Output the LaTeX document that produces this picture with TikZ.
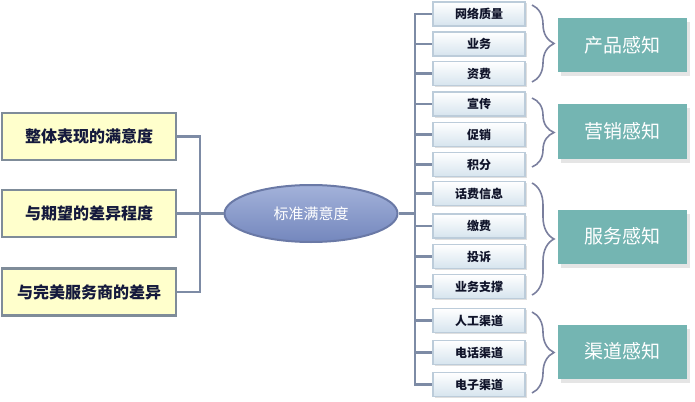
\documentclass[tikz,border=0pt]{standalone}
\usepackage{fontspec}
\setmainfont{Noto Sans CJK SC}
\usetikzlibrary{positioning,calc,shapes.geometric,decorations.pathreplacing,shadows}
\definecolor{LinkGrey}{HTML}{7D8BA5}
\definecolor{AspectFill}{HTML}{FFFFCC}
\definecolor{AspectLine}{HTML}{7F8C99}
\definecolor{AspectText}{HTML}{14193C}
\definecolor{CoreTop}{HTML}{A3B2DA}
\definecolor{CoreBottom}{HTML}{7487BD}
\definecolor{CoreLine}{HTML}{6A79A6}
\definecolor{ItemTop}{HTML}{FFFFFF}
\definecolor{ItemBottom}{HTML}{D6E4EE}
\definecolor{ItemLine}{HTML}{BCCCDA}
\definecolor{ItemText}{HTML}{10142A}
\definecolor{BraceGrey}{HTML}{7A7F9E}
\definecolor{SenseTeal}{HTML}{74B5B2}
\tikzset{
  aspect/.style={draw=AspectLine,line width=2.5pt,fill=AspectFill,minimum width=174,minimum height=47,inner sep=0pt,text=AspectText,font=\fontsize{16}{18}\selectfont\bfseries},
  core/.style={ellipse,draw=CoreLine,line width=2pt,top color=CoreTop,bottom color=CoreBottom,minimum width=173,minimum height=57,inner sep=0pt,text=white,font=\fontsize{15}{17}\selectfont},
  item/.style={draw=ItemLine,line width=1.2pt,top color=ItemTop,bottom color=ItemBottom,minimum width=92,minimum height=24,inner sep=0pt,text=ItemText,font=\fontsize{12}{14}\selectfont\bfseries,drop shadow={shadow xshift=1.5pt,shadow yshift=-1.5pt,fill=black!25}},
  sense/.style={fill=SenseTeal,minimum width=129,minimum height=54,inner sep=0pt,text=white,font=\fontsize{19}{21}\selectfont,drop shadow={shadow xshift=3pt,shadow yshift=-4pt,fill=black!20}},
  link/.style={draw=LinkGrey,line width=2.5pt},
  curly/.style={draw=BraceGrey,line width=1.6pt,decorate,decoration={brace,amplitude=22pt}}
}
\begin{document}
\begin{tikzpicture}[x=1pt,y=-1pt]
  \useasboundingbox (0,0) rectangle (695,401);
  % left: three aspects of satisfaction
  \node[aspect] (whole) at (89,136.5) {整体表现的满意度};
  \node[aspect] (expect) at (89,213.5) {与期望的差异程度};
  \node[aspect] (ideal) at (89,292) {与完美服务商的差异};
  \node[core] (std) at (311,213.5) {标准满意度};
  \coordinate (lj) at (200,213.5);
  \coordinate (rj) at (415,213.5);
  \draw[link] (whole.east) -| (lj);
  \draw[link] (ideal.east) -| (lj);
  \draw[link] (expect.east) -- (std.west);
  \draw[link] (std.east) -- (rj);
  % middle: the thirteen items
  \foreach \y/\t [count=\i] in {14/网络质量,44/业务,73.5/资费,104/宣传,134.5/促销,164.5/积分,193.5/话费信息,226/缴费,256.5/投诉,286.5/业务支撑,320.5/人工渠道,352.5/电话渠道,384.5/电子渠道}
    \node[item] (b\i) at (479,\y) {\t};
  \foreach \i in {1,...,13}
    \draw[link] (rj) |- (b\i.west);
  % right: four perceptions
  \draw[curly] (532,5) -- (532,82);
  \draw[curly] (532,98) -- (532,167);
  \draw[curly] (532,183) -- (532,295);
  \draw[curly] (532,312) -- (532,393);
  \node[sense] (prod) at (622.5,45) {产品感知};
  \node[sense] (mkt) at (622.5,131.5) {营销感知};
  \node[sense] (serv) at (622.5,236.5) {服务感知};
  \node[sense] (chan) at (622.5,351.5) {渠道感知};
\end{tikzpicture}
\end{document}
